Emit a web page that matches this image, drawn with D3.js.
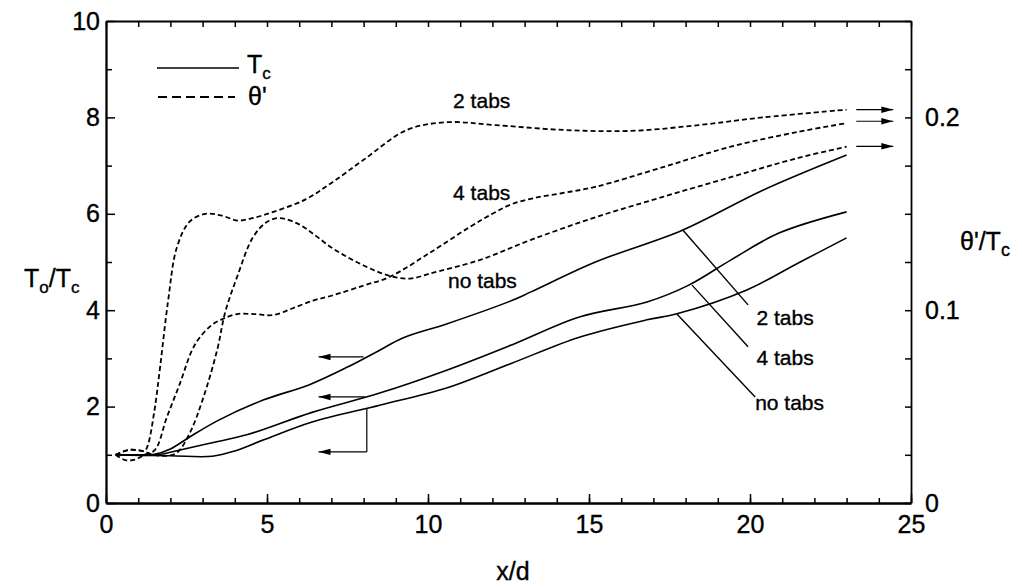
<!DOCTYPE html>
<html>
<head>
<meta charset="utf-8">
<script src="https://cdn.jsdelivr.net/npm/d3@7"></script>
<style>
  body { margin: 0; background: #fff; }
  svg { display: block; font-family: "Liberation Sans", Arial, Helvetica, sans-serif; }
  text { fill: #000; stroke: #000; stroke-width: 0.35px; }
</style>
</head>
<body>
<svg id="chart" width="1022" height="587"></svg>
<script>
// ---------- data ----------
// x/d ticks
const xMajorTicks = [0, 5, 10, 15, 20, 25];
const xMinorTicks = d3.range(0, 26, 1);
const yLeftMajorTicks = [0, 2, 4, 6, 8, 10];
const yLeftMinorTicks = [1, 3, 5, 7, 9];
const yRightTicks = [0, 0.025, 0.05, 0.075, 0.1, 0.125, 0.15, 0.175, 0.2, 0.225, 0.25];
const yRightLabels = [0, 0.1, 0.2];

// Solid curves: T_o/T_c (left axis), [x/d, value]
const solid2tabs = [[0.3,1.0],[1.0,1.0],[1.5,1.01],[2.0,1.12],[2.6,1.37],[3.5,1.72],[4.9,2.14],[6.3,2.45],[7.5,2.82],[8.5,3.17],[9.2,3.42],[10.6,3.72],[12.6,4.2],[13.2,4.38],[15.2,5.0],[17.9,5.66],[20.4,6.49],[23.0,7.22]];
const solid4tabs = [[0.3,1.0],[1.6,1.0],[2.3,1.1],[3.3,1.25],[4.4,1.42],[6.4,1.88],[8.5,2.28],[10.6,2.76],[12.6,3.28],[14.7,3.86],[16.8,4.17],[18.1,4.52],[19.4,5.04],[20.9,5.6],[23.0,6.04]];
const solidNoTabs = [[0.3,1.0],[2.0,0.98],[3.3,0.97],[4.0,1.08],[4.9,1.31],[6.4,1.68],[8.5,2.03],[10.6,2.39],[12.6,2.9],[14.7,3.44],[16.8,3.8],[17.7,3.92],[19.9,4.42],[21.5,4.98],[23.0,5.5]];

// Dashed curves: theta'/T_c (right axis), [x/d, value]
const dashed2tabs = [[0.3,0.025],[0.7,0.0275],[1.0,0.0275],[1.2,0.027],[1.3,0.03],[1.5,0.0475],[1.68,0.0705],[1.93,0.105],[2.2,0.1325],[2.6,0.146],[3.1,0.15],[3.6,0.149],[4.1,0.1465],[4.6,0.148],[5.2,0.151],[6.2,0.1575],[7.0,0.166],[8.0,0.178],[9.35,0.1935],[10.6,0.1975],[12.1,0.196],[14.2,0.1935],[16.3,0.193],[18.4,0.196],[20.4,0.2],[23.0,0.204]];
const dashed4tabs = [[0.3,0.025],[0.6,0.0222],[0.9,0.0225],[1.2,0.025],[1.52,0.0275],[1.89,0.0445],[2.3,0.0622],[2.67,0.0792],[2.92,0.086],[3.3,0.0925],[3.63,0.0955],[4.07,0.098],[4.6,0.098],[5.19,0.0975],[5.8,0.101],[6.43,0.105],[7.0,0.1075],[8.0,0.1128],[8.8,0.1172],[10.06,0.1298],[11.3,0.1432],[12.0,0.15],[12.6,0.155],[13.3,0.1582],[14.2,0.1608],[15.2,0.164],[17.3,0.1742],[19.4,0.1848],[21.5,0.1925],[23.0,0.197]];
const dashedNoTabs = [[0.3,0.025],[0.7,0.0275],[1.1,0.027],[1.5,0.025],[1.9,0.0245],[2.2,0.026],[2.6,0.0362],[3.0,0.0535],[3.45,0.0792],[3.7,0.0988],[4.07,0.1172],[4.57,0.138],[5.0,0.1458],[5.4,0.1478],[6.0,0.1445],[6.5,0.1388],[7.0,0.1325],[7.5,0.1275],[8.0,0.1232],[8.5,0.1195],[9.0,0.117],[9.5,0.1165],[10.06,0.119],[11.6,0.126],[13.2,0.1365],[15.2,0.1482],[17.3,0.1588],[19.4,0.169],[21.5,0.179],[23.0,0.1848]];

// Arrows pointing to left axis (T_o/T_c units): [from x, to x, y]
const leftArrows = [[8.0, 6.6, 3.03], [8.04, 6.6, 2.2], [8.1, 6.6, 1.06]];
const leftArrowRiser = [[8.1, 1.06], [8.1, 1.96]];
// Arrows pointing to right axis (theta'/T_c units)
const rightArrows = [[23.3, 24.45, 0.204], [23.3, 24.45, 0.198], [23.3, 24.45, 0.185]];

// Curve labels (left-axis units)
const dashedLabels = [["2 tabs", 10.78, 8.2], ["4 tabs", 10.78, 6.29], ["no tabs", 10.62, 4.46]];
const leaderLines = [[[17.92, 5.66], [19.94, 4.11]], [[18.2, 4.52], [19.94, 3.24]], [[17.73, 3.92], [20.16, 2.2]]];
const solidLabels = [["2 tabs", 20.2, 3.69], ["4 tabs", 20.2, 2.86], ["no tabs", 20.16, 1.93]];

// ---------- layout ----------
const svg = d3.select("#chart");
const L = 106, R = 911, T = 21, B = 503;
const x = d3.scaleLinear().domain([0, 25]).range([L, R]);
const y = d3.scaleLinear().domain([0, 10]).range([B, T]);
const yR = d3.scaleLinear().domain([0, 0.25]).range([B, T]);

const tickFont = 25;

function styleAxis(g) {
  g.select(".domain").attr("stroke", "#000").attr("stroke-width", 1.8);
  g.selectAll(".tick line").attr("stroke", "#000").attr("stroke-width", 1.5);
  g.selectAll(".tick text").attr("font-size", tickFont)
    .attr("font-family", "Liberation Sans, Arial, sans-serif");
}

// bottom
svg.append("g").attr("transform", `translate(0,${B})`)
  .call(d3.axisBottom(x).tickValues(xMinorTicks).tickSize(-5).tickSizeOuter(0).tickFormat(""))
  .call(styleAxis);
svg.append("g").attr("transform", `translate(0,${B})`)
  .call(d3.axisBottom(x).tickValues(xMajorTicks).tickSize(-9).tickSizeOuter(0).tickPadding(12).tickFormat(d3.format("d")))
  .call(styleAxis);
// top
svg.append("g").attr("transform", `translate(0,${T})`)
  .call(d3.axisTop(x).tickValues(xMinorTicks).tickSize(-6).tickSizeOuter(0).tickFormat(""))
  .call(styleAxis);
// left
svg.append("g").attr("transform", `translate(${L},0)`)
  .call(d3.axisLeft(y).tickValues(yLeftMinorTicks).tickSize(-6).tickSizeOuter(0).tickFormat(""))
  .call(styleAxis);
svg.append("g").attr("transform", `translate(${L},0)`)
  .call(d3.axisLeft(y).tickValues(yLeftMajorTicks).tickSize(-9).tickSizeOuter(0).tickPadding(6).tickFormat(d3.format("d")))
  .call(styleAxis);
// right
svg.append("g").attr("transform", `translate(${R},0)`)
  .call(d3.axisRight(yR).tickValues(yRightTicks).tickSize(-6).tickSizeOuter(0).tickPadding(14)
    .tickFormat(d => yRightLabels.some(v => Math.abs(v - d) < 1e-9) ? (d === 0 ? "0" : d3.format(".1f")(d)) : ""))
  .call(styleAxis);

// ---------- curves ----------
const curve = d3.curveCatmullRom.alpha(0.5);
const lineL = d3.line().x(d => x(d[0])).y(d => y(d[1])).curve(curve);
const lineR = d3.line().x(d => x(d[0])).y(d => yR(d[1])).curve(curve);

const plot = svg.append("g");
[solid2tabs, solid4tabs, solidNoTabs].forEach(s => {
  plot.append("path").attr("d", lineL(s)).attr("fill", "none")
    .attr("stroke", "#000").attr("stroke-width", 1.6);
});
[dashed2tabs, dashed4tabs, dashedNoTabs].forEach(s => {
  plot.append("path").attr("d", lineR(s)).attr("fill", "none")
    .attr("stroke", "#000").attr("stroke-width", 1.8).attr("stroke-dasharray", "5,3");
});

// ---------- arrows ----------
const defs = svg.append("defs");
defs.append("marker").attr("id", "ah").attr("viewBox", "0 0 12 8")
  .attr("refX", 12).attr("refY", 4).attr("markerWidth", 12).attr("markerHeight", 8)
  .attr("markerUnits", "userSpaceOnUse").attr("orient", "auto")
  .append("path").attr("d", "M0,0.8 L12,4 L0,7.2 Z").attr("fill", "#000");

leftArrows.forEach(a => {
  plot.append("line").attr("x1", x(a[0])).attr("x2", x(a[1]))
    .attr("y1", y(a[2])).attr("y2", y(a[2]))
    .attr("stroke", "#000").attr("stroke-width", 1.2).attr("marker-end", "url(#ah)");
});
plot.append("line").attr("x1", x(leftArrowRiser[0][0])).attr("x2", x(leftArrowRiser[1][0]))
  .attr("y1", y(leftArrowRiser[0][1])).attr("y2", y(leftArrowRiser[1][1]))
  .attr("stroke", "#000").attr("stroke-width", 1.2);
rightArrows.forEach(a => {
  plot.append("line").attr("x1", x(a[0])).attr("x2", x(a[1]))
    .attr("y1", yR(a[2])).attr("y2", yR(a[2]))
    .attr("stroke", "#000").attr("stroke-width", 1.2).attr("marker-end", "url(#ah)");
});

// leader lines
leaderLines.forEach(l => {
  plot.append("line").attr("x1", x(l[0][0])).attr("y1", y(l[0][1]))
    .attr("x2", x(l[1][0])).attr("y2", y(l[1][1]))
    .attr("stroke", "#000").attr("stroke-width", 1.4);
});

// labels
const labFont = 21;
dashedLabels.concat(solidLabels).forEach(t => {
  svg.append("text").attr("x", x(t[1])).attr("y", y(t[2]))
    .attr("font-size", labFont).text(t[0]);
});

// ---------- legend ----------
const leg = svg.append("g");
leg.append("line").attr("x1", 157).attr("x2", 239).attr("y1", 68).attr("y2", 68)
  .attr("stroke", "#000").attr("stroke-width", 1.6);
leg.append("line").attr("x1", 158).attr("x2", 235).attr("y1", 97).attr("y2", 97)
  .attr("stroke", "#000").attr("stroke-width", 1.8).attr("stroke-dasharray", "9,5");
const t1 = leg.append("text").attr("x", 247).attr("y", 73).attr("font-size", 25);
t1.append("tspan").text("T");
t1.append("tspan").attr("dy", 6).attr("font-size", 17).text("c");
leg.append("text").attr("x", 248).attr("y", 105).attr("font-size", 25).text("θ'");

// ---------- axis titles ----------
const yl = svg.append("text").attr("x", 24).attr("y", 287).attr("font-size", 25);
yl.append("tspan").text("T");
yl.append("tspan").attr("dy", 6).attr("font-size", 17).text("o");
yl.append("tspan").attr("dy", -6).text("/T");
yl.append("tspan").attr("dy", 6).attr("font-size", 17).text("c");

const yr = svg.append("text").attr("x", 960).attr("y", 250).attr("font-size", 25);
yr.append("tspan").text("θ'/T");
yr.append("tspan").attr("dy", 6).attr("font-size", 18).text("c");

svg.append("text").attr("x", 513).attr("y", 580).attr("text-anchor", "middle")
  .attr("font-size", 25).text("x/d");
</script>
</body>
</html>
